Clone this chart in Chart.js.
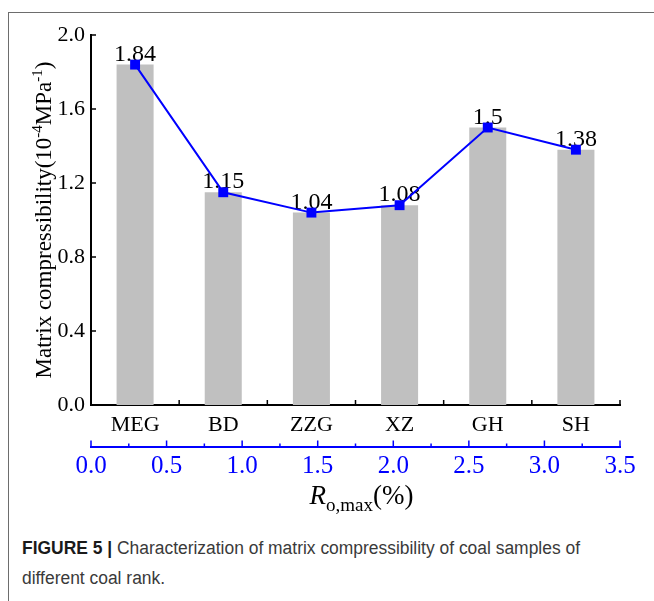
<!DOCTYPE html>
<html>
<head>
<meta charset="utf-8">
<script src="https://cdn.jsdelivr.net/npm/chart.js@4.4.0/dist/chart.umd.min.js"></script>
<style>
  html, body { margin: 0; padding: 0; background: #fff; }
  body { width: 654px; height: 601px; position: relative; overflow: hidden; }
  #frame { position: absolute; left: 8px; top: 12px; right: 0; bottom: 0;
           border-top: 1px solid #6d6d6d; border-left: 1px solid #6d6d6d; }
  #plot { position: absolute; left: 0; top: 0; }
  #caption { position: absolute; left: 22px; top: 533px; font-family: "Liberation Sans", Arial, sans-serif;
             font-size: 18px; line-height: 30px; color: #3a3a3a; white-space: nowrap; transform-origin: 0 0; }
  #caption b { color: #1a1a1a; }
</style>
</head>
<body>
<div id="frame"></div>
<canvas id="plot" width="654" height="530"></canvas>
<div id="caption"><span id="capLine"><b>FIGURE 5 |</b> Characterization of matrix compressibility of coal samples of</span><br>different coal rank.</div>
<script>
// coal samples and their matrix compressibility (10^-4 MPa^-1)
const samples = ['MEG', 'BD', 'ZZG', 'XZ', 'GH', 'SH'];
const compressibility = [1.84, 1.15, 1.04, 1.08, 1.5, 1.38];

// tick values for the left axis and the R_o,max axis under the samples
const yTicks = [0, 0.4, 0.8, 1.2, 1.6, 2.0];
const roTicks = [0, 0.5, 1.0, 1.5, 2.0, 2.5, 3.0, 3.5];

const serif = '"Liberation Serif", "Times New Roman", serif';
const blue = '#0000ff';

// draws a run of [text, size, raise, italic] pieces starting at x
function drawRich(ctx, parts, x, y) {
    parts.forEach(p => {
        ctx.font = (p[3] ? 'italic ' : '') + p[1] + 'px ' + serif;
        ctx.fillText(p[0], x, y - p[2]);
        x += ctx.measureText(p[0]).width;
    });
}
function richWidth(ctx, parts) {
    let w = 0;
    parts.forEach(p => {
        ctx.font = (p[3] ? 'italic ' : '') + p[1] + 'px ' + serif;
        w += ctx.measureText(p[0]).width;
    });
    return w;
}

const axisExtras = {
    id: 'axisExtras',
    beforeDatasetsDraw(chart) {
        // value labels go under the square markers
        const ctx = chart.ctx;
        const meta = chart.getDatasetMeta(1);
        ctx.save();
        ctx.font = '24px ' + serif;
        ctx.fillStyle = '#000';
        ctx.textAlign = 'center';
        ctx.textBaseline = 'alphabetic';
        meta.data.forEach((pt, i) => {
            ctx.fillText(String(compressibility[i]), pt.x, pt.y - 4);
        });
        ctx.restore();
    },
    afterDraw(chart) {
        const ctx = chart.ctx;
        const x = chart.scales.x, y = chart.scales.y, ro = chart.scales.ro;
        ctx.save();

        // inward ticks on the y axis and the sample axis
        ctx.lineWidth = 1.5;
        ctx.strokeStyle = '#000';
        ctx.beginPath();
        y.ticks.forEach(t => {
            const py = y.getPixelForValue(t.value);
            ctx.moveTo(y.right, py);
            ctx.lineTo(y.right + 5, py);
        });
        for (let i = 0; i <= samples.length; i++) {
            const px = x.getPixelForValue(i - 0.5);
            ctx.moveTo(px, x.top);
            ctx.lineTo(px, x.top - 5);
        }
        ctx.stroke();

        // R_o,max axis: major and minor ticks pointing up
        ctx.strokeStyle = blue;
        ctx.beginPath();
        ro.ticks.forEach((t, i) => {
            const px = ro.getPixelForValue(t.value);
            ctx.moveTo(px, ro.top);
            ctx.lineTo(px, ro.top - 6);
            if (i < ro.ticks.length - 1) {
                const mx = ro.getPixelForValue((t.value + ro.ticks[i + 1].value) / 2);
                ctx.moveTo(mx, ro.top);
                ctx.lineTo(mx, ro.top - 3);
            }
        });
        ctx.stroke();

        // x title: R_o,max(%)
        ctx.fillStyle = '#000';
        ctx.textAlign = 'left';
        ctx.textBaseline = 'alphabetic';
        const xTitle = [['R', 27, 0, true], ['o,max', 19, -7, false], ['(%)', 27, 0, false]];
        const cx = (chart.chartArea.left + chart.chartArea.right) / 2 + 6;
        drawRich(ctx, xTitle, cx - richWidth(ctx, xTitle) / 2, 504);

        // y title, rotated
        const yTitle = [['Matrix compressibility(10', 23, 0], ['-4', 15, 9], ['MPa', 23, 0], ['-1', 15, 9], [')', 23, 0]];
        ctx.translate(51, (chart.chartArea.top + chart.chartArea.bottom) / 2);
        ctx.rotate(-Math.PI / 2);
        drawRich(ctx, yTitle, -richWidth(ctx, yTitle) / 2, 0);
        ctx.restore();
    }
};

new Chart(document.getElementById('plot'), {
    type: 'bar',
    data: {
        labels: samples,
        datasets: [
            {
                type: 'bar',
                data: compressibility,
                backgroundColor: '#c0c0c0',
                borderWidth: 0,
                categoryPercentage: 1,
                barPercentage: 0.42,
                order: 1
            },
            {
                type: 'line',
                data: compressibility,
                borderColor: blue,
                borderWidth: 2,
                backgroundColor: blue,
                pointStyle: 'rect',
                pointRadius: 7,
                pointBorderWidth: 0,
                pointBackgroundColor: blue,
                tension: 0,
                order: 0
            }
        ]
    },
    options: {
        responsive: false,
        animation: false,
        layout: { padding: { left: 0, right: 34, top: 35, bottom: 43.5 } },
        plugins: { legend: { display: false }, tooltip: { enabled: false } },
        scales: {
            y: {
                min: 0,
                max: 2,
                afterBuildTicks: s => { s.ticks = yTicks.map(v => ({ value: v })); },
                afterFit: s => { s.width = 91; },
                grid: { display: false, drawTicks: false },
                border: { display: true, color: '#000', width: 2 },
                ticks: {
                    padding: 6,
                    color: '#000',
                    font: { family: serif, size: 22 },
                    callback: v => Number(v).toFixed(1)
                }
            },
            x: {
                weight: 0,
                afterFit: s => { s.height = 41.5; },
                grid: { display: false, drawTicks: false },
                border: { display: true, color: '#000', width: 2 },
                ticks: { padding: 7, color: '#000', font: { family: serif, size: 22 } }
            },
            ro: {
                type: 'linear',
                position: 'bottom',
                weight: 1,
                offset: false,
                min: 0,
                max: 3.5,
                afterBuildTicks: s => { s.ticks = roTicks.map(v => ({ value: v })); },
                afterFit: s => { s.height = 40; },
                grid: { display: false, drawTicks: false, offset: false },
                border: { display: true, color: blue, width: 2 },
                ticks: {
                    padding: 5,
                    color: blue,
                    font: { family: serif, size: 25 },
                    maxRotation: 0,
                    autoSkip: false,
                    callback: v => Number(v).toFixed(1)
                }
            }
        }
    },
    plugins: [axisExtras]
});

// squeeze the caption so its first line ends where the wrap falls
const cap = document.getElementById('caption');
const lineW = document.getElementById('capLine').getBoundingClientRect().width;
cap.style.transform = 'scaleX(' + (558 / lineW) + ')';
</script>
</body>
</html>
